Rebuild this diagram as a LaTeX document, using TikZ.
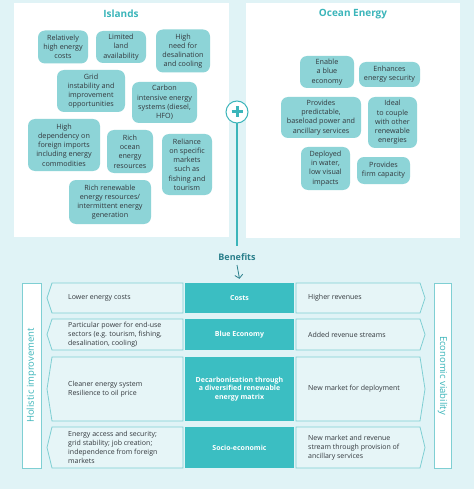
\documentclass[tikz,border=0pt]{standalone}
\usepackage{fontspec}
\usetikzlibrary{arrows.meta}
\setmainfont{Open Sans}
\definecolor{bg}{HTML}{E0F3F6}
\definecolor{bubble}{HTML}{8DD4D7}
\definecolor{txt}{HTML}{33383D}
\definecolor{ttl}{HTML}{3BB5BA}
\definecolor{cbx}{HTML}{3BBEC2}
\definecolor{dteal}{HTML}{2A7F8B}
\definecolor{edge}{HTML}{7FCFD3}
\definecolor{rowfill}{HTML}{E6F5F7}
\begin{document}
\begin{tikzpicture}[x=1pt,y=-1pt,
  font=\fontsize{7.2}{9.2}\selectfont,
  bub/.style={fill=bubble, rounded corners=7pt, align=center, text=txt, inner sep=1pt},
  ttlstyle/.style={text=ttl, font=\fontsize{10}{11}\selectfont\bfseries},
  cbox/.style={fill=cbx, text=white, align=center, inner sep=1pt, minimum width=109pt,
    font=\fontsize{7}{8.8}\selectfont\bfseries},
  rowtxt/.style={anchor=west, align=left, text=txt, inner sep=0pt, font=\fontsize{7}{9}\selectfont},
  chev/.style={draw=edge, line width=0.8pt, fill=rowfill},
  vbox/.style={draw=edge, line width=0.8pt, fill=white},
  vlab/.style={text=ttl, font=\fontsize{9.5}{10}\selectfont}
]
\useasboundingbox (0,0) rectangle (474,489);
\fill[bg] (0,0) rectangle (474,489);
\fill[white] (14,3) rectangle (229,237);
\fill[white] (246,3) rectangle (460,238);

% titles
\node[ttlstyle] (tisl) at (121,14) {Islands};
\node[ttlstyle] (tocean) at (353,14) {Ocean Energy};

% island bubbles
\node[bub, minimum width=50pt, minimum height=33pt] (i1) at (63,47) {Relatively\\high energy\\costs};
\node[bub, minimum width=50pt, minimum height=32pt] (i2) at (121,47) {Limited\\land\\availability};
\node[bub, minimum width=54pt, minimum height=43pt] (i3) at (183,51) {High\\need for\\desalination\\and cooling};
\node[bub, minimum width=68pt, minimum height=42pt] (i4) at (91,91) {Grid\\instability and\\improvement\\opportunities};
\node[bub, minimum width=65pt, minimum height=41pt] (i5) at (164.5,102.5) {Carbon\\intensive energy\\systems (diesel,\\HFO)};
\node[bub, minimum width=72pt, minimum height=52pt] (i6) at (64,145) {High\\dependency on\\foreign imports\\including energy\\commodities};
\node[bub, minimum width=46pt, minimum height=43pt] (i7) at (130,151.5) {Rich\\ocean\\energy\\resources};
\node[bub, minimum width=50pt, minimum height=61pt] (i8) at (187,164.5) {Reliance\\on specific\\markets\\such as\\fishing and\\tourism};
\node[bub, minimum width=82pt, minimum height=44pt] (i9) at (110,202) {Rich renewable\\energy resources/\\intermittent energy\\generation};

% ocean bubbles
\node[bub, minimum width=54pt, minimum height=32pt] (o1) at (327,72) {Enable\\a blue\\economy};
\node[bub, minimum width=61pt, minimum height=25pt] (o2) at (389.5,74.5) {Enhances\\energy security};
\node[bub, minimum width=80pt, minimum height=41pt] (o3) at (321,117.5) {Provides\\predictable,\\baseload power and\\ancillary services};
\node[bub, minimum width=49pt, minimum height=51pt] (o4) at (392.5,122.5) {Ideal\\to couple\\with other\\renewable\\energies};
\node[bub, minimum width=49pt, minimum height=43pt] (o5) at (325.5,168.5) {Deployed\\in water,\\low visual\\impacts};
\node[bub, minimum width=53pt, minimum height=27pt] (o6) at (383.5,170.5) {Provides\\firm capacity};

% plus
\node[circle, draw=ttl, line width=1pt, fill=white, minimum size=22pt, inner sep=0pt] (plus) at (237,112) {};
\draw[ttl, line width=3pt] (231.5,112) -- (242.5,112) (237,106.5) -- (237,117.5);

% benefits
\node[text=dteal, font=\fontsize{9}{10}\selectfont\bfseries] (ben) at (237,257) {Benefits};
\draw[ttl, line width=1.2pt] (plus.south) -- ([yshift=4pt]ben.north);

% vertical labels
\draw[vbox] (22,283) rectangle (41,468);
\node[vlab, rotate=90] (hol) at (31.5,375.5) {Holistic improvement};
\draw[vbox] (434,283) rectangle (451,468);
\node[vlab, rotate=-90] (eco) at (442.5,375.5) {Economic viability};

% rows: left chevrons
\draw[chev] (52,283) -- (183,283) -- (183,313) -- (52,313) -- (47,298) -- cycle;
\draw[chev] (52,319) -- (183,319) -- (183,350) -- (52,350) -- (47,334.5) -- cycle;
\draw[chev] (52,357) -- (183,357) -- (183,421) -- (52,421) -- (47,389) -- cycle;
\draw[chev] (52,427) -- (183,427) -- (183,468) -- (52,468) -- (47,447.5) -- cycle;
% right chevrons
\draw[chev] (296,283) -- (420,283) -- (425,298) -- (420,313) -- (296,313) -- cycle;
\draw[chev] (296,319) -- (420,319) -- (425,334.5) -- (420,350) -- (296,350) -- cycle;
\draw[chev] (296,357) -- (420,357) -- (425,389) -- (420,421) -- (296,421) -- cycle;
\draw[chev] (296,427) -- (420,427) -- (425,447.5) -- (420,468) -- (296,468) -- cycle;

% center boxes
\node[cbox, minimum height=30pt] (costs) at (239.5,298) {Costs};
\node[cbox, minimum height=31pt] (blue) at (239.5,334.5) {Blue Economy};
\node[cbox, minimum height=64pt] (decarb) at (239.5,389) {Decarbonisation through\\a diversified renewable\\energy matrix};
\node[cbox, minimum height=41pt] (socio) at (239.5,447.5) {Socio-economic};

\draw[dteal, line width=0.8pt, -{Straight Barb[length=3.5pt,width=8pt]}] ([yshift=-1pt]ben.south) -- ([yshift=4pt]costs.north);

% left texts
\node[rowtxt] (l1) at (68,298) {Lower energy costs};
\node[rowtxt] (l2) at (68,334.5) {Particular power for end-use\\sectors (e.g. tourism, fishing,\\desalination, cooling)};
\node[rowtxt] (l3) at (68,389) {Cleaner energy system\\Resilience to oil price};
\node[rowtxt] (l4) at (68,447.5) {Energy access and security;\\grid stability; job creation;\\independence from foreign\\markets};
% right texts
\node[rowtxt] (r1) at (308,298) {Higher revenues};
\node[rowtxt] (r2) at (308,334.5) {Added revenue streams};
\node[rowtxt] (r3) at (308,389) {New market for deployment};
\node[rowtxt] (r4) at (308,447.5) {New market and revenue\\stream through provision of\\ancillary services};
\end{tikzpicture}
\end{document}
